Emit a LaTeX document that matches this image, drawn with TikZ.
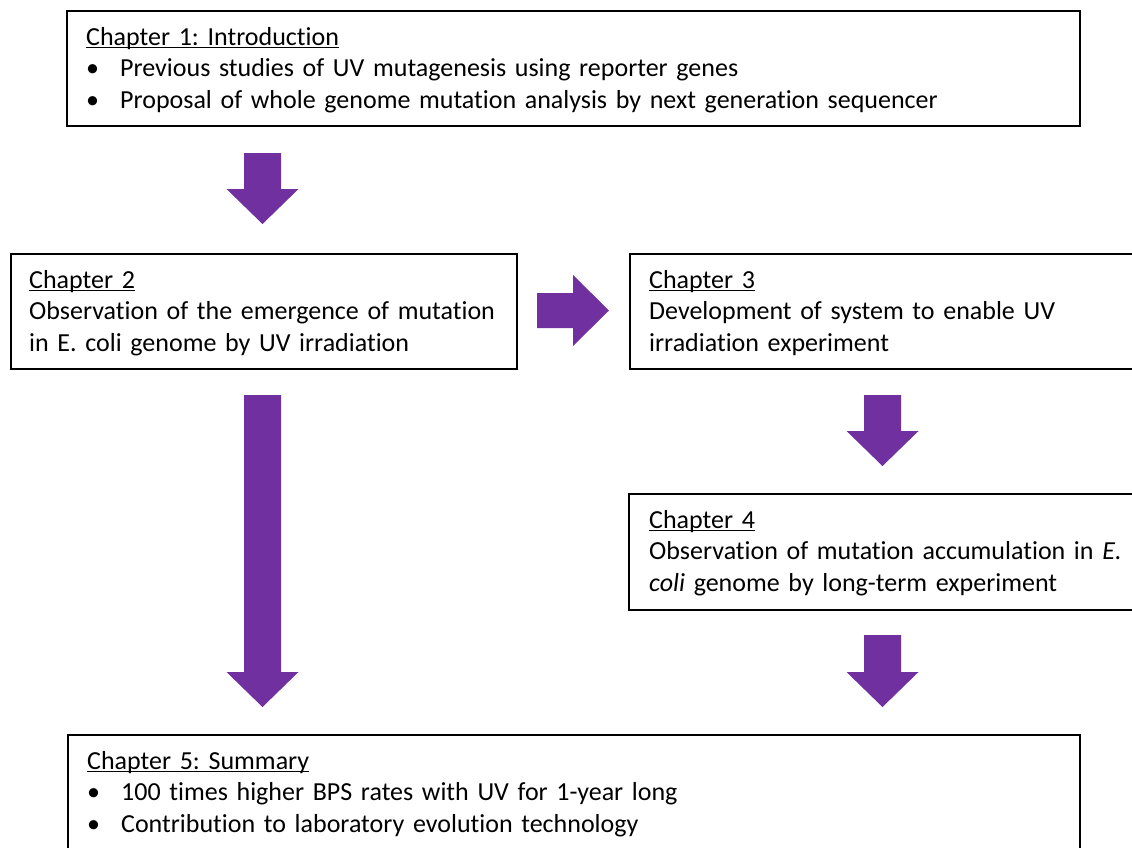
\documentclass[tikz,border=0pt]{standalone}
\usepackage{fontspec}
\setmainfont{Carlito}[Ligatures=NoCommon,RawFeature={-calt}]
\usetikzlibrary{calc}
\frenchspacing
\definecolor{arrowpurple}{HTML}{7030A0}
\newcommand{\ulx}[1]{\setbox0\hbox{#1}\rlap{\rule[-3.4pt]{\wd0}{1.4pt}}\box0}
\newcommand{\bul}{\makebox[34pt][l]{\textbullet}}
\newcommand{\pdarrow}[4]{% center x, top, head start, tip
  \fill[arrowpurple] (#1-18.5,#2) -- (#1+18.5,#2) -- (#1+18.5,#3) -- (#1+36,#3)
    -- (#1,#4) -- (#1-36,#3) -- (#1-18.5,#3) -- cycle;}
\tikzset{
  chapbox/.style={draw=black, line width=1.5pt, rectangle, inner sep=0pt, anchor=north west},
  chaptext/.style={anchor=base west, inner sep=0pt, text width=1000pt, align=left,
    font=\fontsize{26}{31.5}\selectfont\frenchspacing},
}
\begin{document}
\begin{tikzpicture}[x=1pt,y=-1pt]
\useasboundingbox (0,0) rectangle (1132,847);
\clip (0,0) rectangle (1132,847);
\fill[white] (0,0) rectangle (1132,847);
% boxes
\node[chapbox, minimum width=1013pt, minimum height=115pt] (b1) at (66,10) {};
\node[chapbox, minimum width=506pt, minimum height=115pt] (b2) at (10,253) {};
\node[chapbox, minimum width=520pt, minimum height=115pt] (b3) at (629,253) {};
\node[chapbox, minimum width=520pt, minimum height=116pt] (b4) at (628,493) {};
\node[chapbox, minimum width=1012pt, minimum height=140pt] (b5) at (67,734) {};
% texts
\node[chaptext] (t1) at ($(b1.north west)+(20,35)$) {\ulx{Chapter 1: Introduction}\\
\bul Previous studies of UV mutagenesis using reporter genes\\
\bul Proposal of whole genome mutation analysis by next generation sequencer};
\node[chaptext] (t2) at ($(b2.north west)+(19,35)$) {\ulx{Chapter 2}\\
Observation of the emergence of mutation\\
in E. coli genome by UV irradiation};
\node[chaptext] (t3) at ($(b3.north west)+(20,35)$) {\ulx{Chapter 3}\\
Development of system to enable UV\\
irradiation experiment};
\node[chaptext] (t4) at ($(b4.north west)+(21,35)$) {\ulx{Chapter 4}\\
Observation of mutation accumulation in \textit{E.}\\
\textit{coli} genome by long-term experiment};
\node[chaptext] (t5) at ($(b5.north west)+(20,35)$) {\ulx{Chapter 5: Summary}\\
\bul 100 times higher BPS rates with UV for 1-year long\\
\bul Contribution to laboratory evolution technology};
% block arrows
\pdarrow{262.5}{153}{189}{224}
\pdarrow{262.5}{395}{672}{707}
\pdarrow{882.5}{395}{431}{466}
\pdarrow{882.5}{635}{672}{707}
\fill[arrowpurple] (537,293) -- (573,293) -- (573,275) -- (609,310.5) -- (573,346)
  -- (573,328) -- (537,328) -- cycle;
\end{tikzpicture}
\end{document}
